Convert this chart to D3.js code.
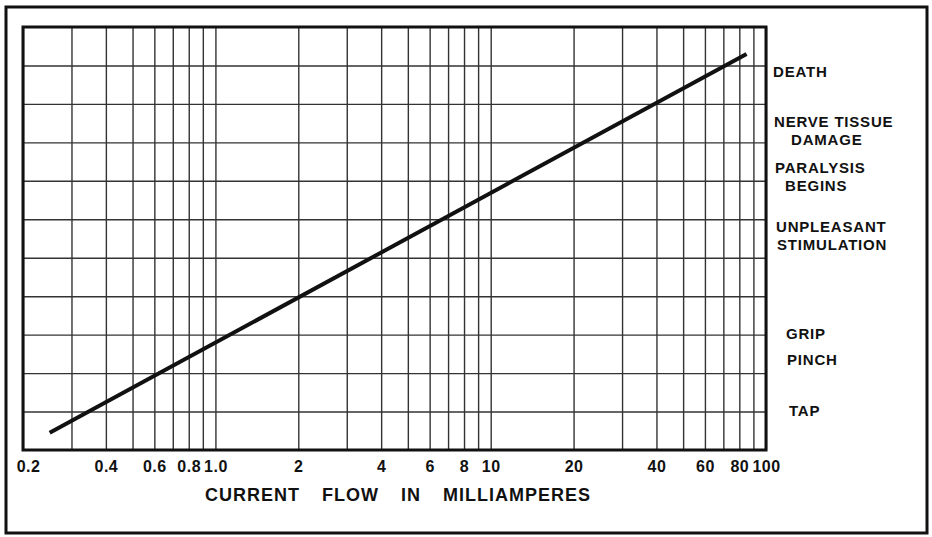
<html>
<head>
    <title>Current flow</title>
    <style>
        body { margin: 0; background: #fff; }
        text { font-family: "Liberation Sans", Arial, sans-serif; font-weight: bold; fill: #111; }
    </style>
</head>
<body>
    <div id="viz"></div>
    <script src="https://d3js.org/d3.v7.min.js"></script>
    <script>
        // chart values
        var gridX = [0.2, 0.3, 0.4, 0.5, 0.6, 0.7, 0.8, 0.9, 1, 2, 3, 4, 5, 6, 7, 8, 9, 10, 20, 30, 40, 50, 60, 70, 80, 90, 100];
        var tickValues = [0.2, 0.4, 0.6, 0.8, 1, 2, 4, 6, 8, 10, 20, 40, 60, 80, 100];
        var tickLabels = ["0.2", "0.4", "0.6", "0.8", "1.0", "2", "4", "6", "8", "10", "20", "40", "60", "80", "100"];
        var gridY = [1, 2, 3, 4, 5, 6, 7, 8, 9, 10];
        var lineX = [0.25, 85];
        var lineY = [0.45, 10.3];
        var effects = ["DEATH", "NERVE TISSUE|DAMAGE", "PARALYSIS|BEGINS", "UNPLEASANT|STIMULATION", "GRIP", "PINCH", "TAP"];
        var effectLevel = [9.86, 8.32, 7.13, 5.6, 3.04, 2.37, 1.04];
        var xTitle = "CURRENT FLOW IN MILLIAMPERES";

        var width = 932;
        var height = 537;
        var plotL = 23, plotR = 766, plotT = 27, plotB = 450;

        var svg = d3.select("#viz")
            .append('svg')
            .attr('width', width)
            .attr('height', height);

        var x = d3.scaleLog().domain([0.2, 100]).range([plotL, plotR]);
        var y = d3.scaleLinear().domain([0, 11]).range([plotB, plotT]);

        // outer frame
        svg.append('rect')
            .attr('x', 6).attr('y', 7)
            .attr('width', 921).attr('height', 526)
            .attr('fill', 'none')
            .attr('stroke', '#111')
            .attr('stroke-width', 3);

        // vertical grid
        svg.append('g')
            .attr('transform', 'translate(0,' + plotB + ')')
            .call(d3.axisBottom(x).tickValues(gridX).tickSize(-(plotB - plotT)).tickFormat(''))
            .call(function (g) {
                g.select('.domain').remove();
                g.selectAll('line').attr('stroke', '#333').attr('stroke-width', 1.4);
            });

        // horizontal grid
        svg.append('g')
            .attr('transform', 'translate(' + plotL + ',0)')
            .call(d3.axisLeft(y).tickValues(gridY).tickSize(-(plotR - plotL)).tickFormat(''))
            .call(function (g) {
                g.select('.domain').remove();
                g.selectAll('line').attr('stroke', '#333').attr('stroke-width', 1.4);
            });

        // plot border
        svg.append('rect')
            .attr('x', plotL).attr('y', plotT)
            .attr('width', plotR - plotL).attr('height', plotB - plotT)
            .attr('fill', 'none')
            .attr('stroke', '#111')
            .attr('stroke-width', 3);

        // tick labels
        var xAxis = svg.append('g')
            .attr('transform', 'translate(0,' + plotB + ')')
            .call(d3.axisBottom(x).tickValues(tickValues).tickSize(0).tickPadding(11)
                .tickFormat(function (d, i) { return tickLabels[i]; }));
        xAxis.select('.domain').remove();
        xAxis.selectAll('text')
            .attr('font-size', 16)
            .attr('letter-spacing', 0.5)
            .attr('font-family', '"Liberation Sans", Arial, sans-serif')
            .attr('font-weight', 'bold')
            .attr('fill', '#111');
        xAxis.selectAll('.tick').filter(function (d) { return d === 0.2; })
            .select('text').attr('dx', 5);

        svg.append('text')
            .attr('x', 398).attr('y', 501)
            .attr('text-anchor', 'middle')
            .attr('font-size', 18)
            .attr('letter-spacing', 1)
            .attr('word-spacing', 16)
            .text(xTitle);

        // the line
        var pts = lineX.map(function (d, i) { return [d, lineY[i]]; });
        svg.append('path')
            .datum(pts)
            .attr('d', d3.line().x(function (d) { return x(d[0]); }).y(function (d) { return y(d[1]); }))
            .attr('fill', 'none')
            .attr('stroke', '#111')
            .attr('stroke-width', 4);

        // effect labels on the right
        var indent = { "DAMAGE": 18, "BEGINS": 12, "GRIP": 13, "PINCH": 14, "TAP": 16, "NERVE TISSUE": 1, "PARALYSIS": 2, "UNPLEASANT": 3, "STIMULATION": 4 };
        effects.forEach(function (lab, i) {
            var lines = lab.split('|');
            var cy = y(effectLevel[i]);
            lines.forEach(function (t, j) {
                var off = (j - (lines.length - 1) / 2) * 18;
                svg.append('text')
                    .attr('x', plotR + 7 + (indent[t] || 0))
                    .attr('y', cy + off + 6)
                    .attr('font-size', 15)
                    .attr('letter-spacing', 0.8)
                    .text(t);
            });
        });
    </script>
</body>
</html>
